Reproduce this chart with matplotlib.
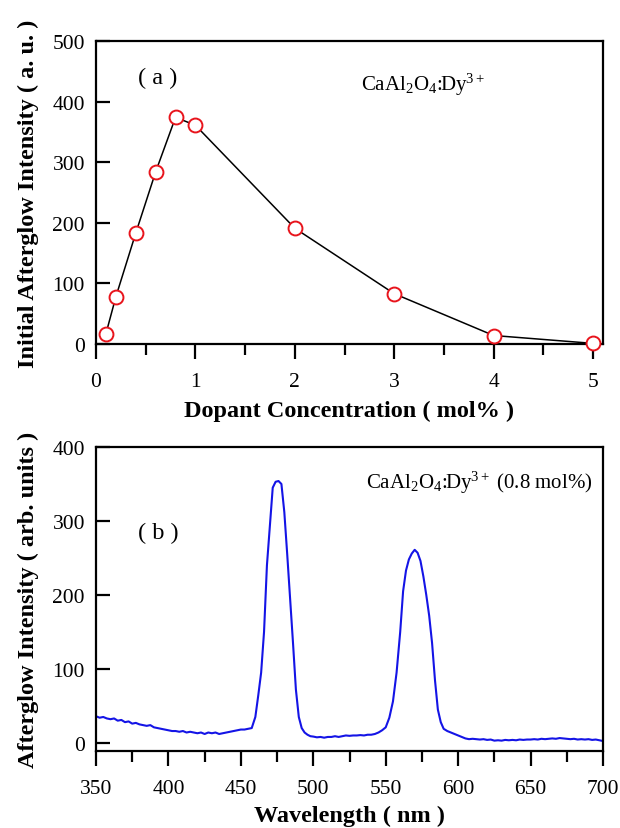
import matplotlib
matplotlib.use("Agg")
import matplotlib.pyplot as plt
from matplotlib.ticker import MultipleLocator

plt.rcParams['font.family'] = ['Liberation Serif', 'DejaVu Serif']
plt.rcParams['mathtext.fontset'] = 'custom'
plt.rcParams['mathtext.rm'] = 'Liberation Serif'
plt.rcParams['mathtext.it'] = 'Liberation Serif:italic'
plt.rcParams['mathtext.bf'] = 'Liberation Serif:bold'

# Panel (a) data
concentration = [0.1, 0.2, 0.4, 0.6, 0.8, 1.0, 2.0, 3.0, 4.0, 5.0]
initial_intensity = [17, 78, 183, 284, 374, 361, 191, 83, 14, 1]

# Panel (b) data
wavelength = [
    350, 352.5, 355, 357.5, 360, 362.5, 365, 367.5, 370, 372.5, 375, 377.5, 380, 382.5,
    385, 387.5, 390, 392.5, 395, 397.5, 400, 402.5, 405, 407.5, 410, 412.5, 415, 417.5,
    420, 422.5, 425, 427.5, 430, 432.5, 435, 437.5, 440, 442.5, 445, 447.5, 450, 452.5,
    455, 457.5, 460, 462, 464, 466, 468, 470, 472, 474, 476, 478, 480, 482, 484, 486,
    488, 490, 492, 494, 496, 498, 500, 502.5, 505, 507.5, 510, 512.5, 515, 517.5, 520,
    522.5, 525, 527.5, 530, 532.5, 535, 537.5, 540, 542.5, 545, 547.5, 550, 552.5, 555,
    557.5, 560, 562, 564, 566, 568, 570, 572, 574, 576, 578, 580, 582, 584, 586, 588,
    590, 592.5, 595, 597.5, 600, 602.5, 605, 607.5, 610, 612.5, 615, 617.5, 620, 622.5,
    625, 627.5, 630, 632.5, 635, 637.5, 640, 642.5, 645, 647.5, 650, 652.5, 655, 657.5,
    660, 662.5, 665, 667.5, 670, 672.5, 675, 677.5, 680, 682.5, 685, 687.5, 690, 692.5,
    695, 697.5, 700]
afterglow = [
    36, 34, 35, 33, 32, 33, 30, 31, 28, 29, 26, 27, 25, 24,
    23, 24, 21, 20, 19, 18, 17, 16, 16, 15, 16, 14, 15, 14,
    13, 14, 12, 14, 13, 14, 12, 13, 14, 15, 16, 17, 18, 18,
    19, 20, 35, 64, 95, 150, 240, 292, 345, 353, 354, 350, 312, 255, 195, 135,
    72, 35, 20, 14, 11, 9, 8.5, 7.5, 8, 7, 8, 8, 9, 8, 9,
    10, 9.5, 10, 10, 10.5, 10, 11, 11, 12, 14, 17, 21, 34, 56,
    95, 150, 205, 233, 248, 256, 261, 257, 246, 225, 200, 172, 135, 85, 45, 28,
    19, 16, 14, 12, 10, 8, 6, 5, 5.5, 5, 4.5, 5, 4, 4.5,
    3, 3.5, 3, 4, 3.5, 4, 3.5, 4.5, 4, 4.5, 4.5, 5, 4.5, 5.5,
    5, 5.5, 6, 5.5, 6.5, 6, 5.5, 5, 5.5, 4.5, 5, 4.5, 5, 4,
    4.5, 3.5, 2.5]

W, H = 620, 829
fig = plt.figure(figsize=(W / 100, H / 100), dpi=100)

def px_axes(left, top, right, bottom):
    return fig.add_axes([left / W, 1 - bottom / H, (right - left) / W, (bottom - top) / H])

ax1 = px_axes(96, 42, 603, 345)
ax2 = px_axes(96, 448, 603, 752)

tick_fs = 15.5
label_fs = 17.5
note_fs = 15

for ax in (ax1, ax2):
    for s in ax.spines.values():
        s.set_linewidth(1.6)
    ax.tick_params(axis='x', which='major', direction='out', length=11, width=1.6,
                   pad=9, labelsize=tick_fs, top=False)
    ax.tick_params(axis='x', which='minor', direction='out', length=8, width=1.6, top=False)
    ax.tick_params(axis='y', which='major', direction='in', length=10, width=1.6,
                   pad=8, labelsize=tick_fs, right=False)
    ax.tick_params(axis='y', which='minor', left=False, right=False)

# Panel (a)
ax1.plot(concentration, initial_intensity, color='black', lw=1.1, marker='o',
         markersize=10, markerfacecolor='white', markeredgecolor='#e8141c',
         markeredgewidth=1.4, clip_on=False, zorder=3)
ax1.set_xlim(0, 5.1)
ax1.set_ylim(0, 500)
ax1.xaxis.set_major_locator(MultipleLocator(1))
ax1.xaxis.set_minor_locator(MultipleLocator(0.5))
ax1.yaxis.set_major_locator(MultipleLocator(100))
ax1.set_xlabel('Dopant Concentration ( mol% )', fontsize=label_fs, fontweight='bold')
ax1.set_ylabel('Initial Afterglow Intensity ( a. u. )', fontsize=label_fs, fontweight='bold')
ax1.xaxis.set_label_coords(0.5, -0.183)
ax1.yaxis.set_label_coords(-0.112, 0.5)
ax1.text(0.083, 0.88, '( a )', transform=ax1.transAxes, fontsize=17.5, va='center', ha='left')
ax1.text(0.523, 0.86, r'CaAl$_2$O$_4$:Dy$^{3+}$', transform=ax1.transAxes,
         fontsize=note_fs, va='center', ha='left')

# Panel (b)
ax2.plot(wavelength, afterglow, color='#1414e6', lw=1.5)
ax2.set_xlim(350, 700)
ax2.set_ylim(-11, 400)
ax2.xaxis.set_major_locator(MultipleLocator(50))
ax2.xaxis.set_minor_locator(MultipleLocator(25))
ax2.yaxis.set_major_locator(MultipleLocator(100))
ax2.set_xlabel('Wavelength ( nm )', fontsize=label_fs, fontweight='bold')
ax2.set_ylabel('Afterglow Intensity ( arb. units )', fontsize=label_fs, fontweight='bold')
ax2.xaxis.set_label_coords(0.5, -0.178)
ax2.yaxis.set_label_coords(-0.112, 0.5)
ax2.text(0.083, 0.72, '( b )', transform=ax2.transAxes, fontsize=17.5, va='center', ha='left')
ax2.text(0.533, 0.885, r'CaAl$_2$O$_4$:Dy$^{3+}$ (0.8 mol%)', transform=ax2.transAxes,
         fontsize=note_fs, va='center', ha='left')

fig.savefig('out.png', dpi=100)
